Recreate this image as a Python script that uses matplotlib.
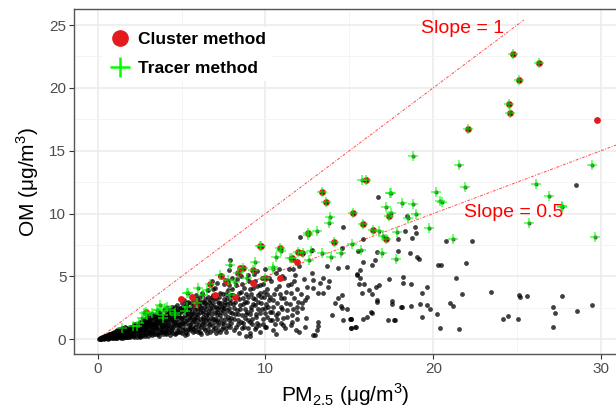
import numpy as np
import matplotlib
matplotlib.use('Agg')
import matplotlib.pyplot as plt
from matplotlib.lines import Line2D
from matplotlib.ticker import MultipleLocator

plt.rcParams['font.family'] = ['Liberation Sans', 'DejaVu Sans']

# all samples (PM2.5, OM), ug/m3
cloud_pts = [
    # dense part near the origin
    (0.1,0.03),(0.15,0.06),(0.2,0.05),(0.25,0.1),(0.3,0.08),(0.3,0.15),(0.35,0.12),(0.4,0.1),
    (0.4,0.2),(0.45,0.16),(0.5,0.08),(0.5,0.22),(0.55,0.18),(0.6,0.12),(0.6,0.28),(0.65,0.2),
    (0.7,0.1),(0.7,0.32),(0.75,0.24),(0.8,0.15),(0.8,0.36),(0.85,0.28),(0.9,0.12),(0.9,0.42),
    (0.95,0.3),(1.0,0.18),(1.0,0.46),(1.0,0.6),(1.05,0.35),(1.1,0.1),(1.1,0.52),(1.15,0.25),
    (1.2,0.4),(1.2,0.62),(1.25,0.15),(1.3,0.5),(1.3,0.3),(1.35,0.7),(1.4,0.2),(1.4,0.45),
    (1.45,0.6),(1.5,0.12),(1.5,0.35),(1.5,0.8),(1.55,0.52),(1.6,0.25),(1.6,0.7),(1.65,0.42),
    (1.7,0.15),(1.7,0.9),(1.75,0.58),(1.8,0.3),(1.8,0.75),(1.85,0.48),(1.9,0.2),(1.9,0.95),
    (1.95,0.65),(2.0,0.38),(2.0,0.82),(0.55,0.35),(0.75,0.45),(0.2,0.12),(0.45,0.28),(1.15,0.75),
    (1.6,0.95),(0.35,0.22),(0.85,0.5),(1.25,0.85),(0.65,0.4),(1.45,0.9),
    (0.12,0.08),(0.18,0.02),(0.28,0.18),(0.38,0.05),(0.42,0.25),(0.52,0.14),(0.58,0.3),
    (0.62,0.05),(0.68,0.26),(0.72,0.4),(0.78,0.08),(0.82,0.3),(0.88,0.2),(0.92,0.5),(0.98,0.08),
    (1.02,0.38),(1.08,0.22),(1.12,0.65),(1.18,0.12),(1.22,0.5),(1.28,0.35),(1.32,0.6),(1.38,0.1),
    (1.42,0.75),(1.48,0.25),(1.52,0.65),(1.58,0.4),(1.62,0.15),(1.68,0.6),(1.72,0.35),
    (1.78,0.85),(1.82,0.2),(1.88,0.65),(1.92,0.45),(1.98,1.0),
    (1.55,0.3),(1.65,0.55),(1.75,0.2),(1.85,0.8),(1.95,0.3),
    # 2 - 5
    (2.1,0.25),(2.1,0.55),(2.15,0.9),(2.2,1.1),(2.25,0.4),(2.3,0.7),(2.3,1.25),(2.35,0.2),
    (2.4,0.95),(2.45,0.55),(2.5,1.35),(2.5,0.35),(2.55,0.75),(2.6,1.1),(2.65,0.25),(2.7,1.5),
    (2.7,0.55),(2.75,0.9),(2.8,1.25),(2.85,0.4),(2.9,1.7),(2.9,0.7),(2.95,1.05),(3.0,0.3),
    (3.0,1.4),(3.05,0.85),(3.1,1.9),(3.1,0.55),(3.15,1.2),(3.2,1.6),(3.25,0.35),(3.3,1.0),
    (3.3,1.85),(3.35,0.7),(3.4,1.4),(3.45,0.45),(3.5,2.0),(3.5,1.15),(3.55,0.8),(3.6,1.65),
    (3.65,0.3),(3.7,1.3),(3.7,2.1),(3.75,0.6),(3.8,0.95),(3.85,1.8),(3.9,1.5),(3.9,0.45),
    (3.95,2.3),(4.0,1.15),(4.0,0.75),(4.05,1.95),(4.1,0.5),(4.15,1.45),(4.2,2.45),(4.2,0.9),
    (4.25,1.7),(4.3,0.35),(4.35,2.1),(4.4,1.2),(4.4,0.65),(4.45,2.6),(4.5,1.55),(4.5,0.95),
    (4.55,2.3),(4.6,0.45),(4.65,1.85),(4.7,1.1),(4.7,2.7),(4.75,0.75),(4.8,1.4),(4.85,2.15),
    (4.9,0.55),(4.9,2.5),(4.95,1.7),(5.0,1.0),(5.0,2.9),
    (2.4,0.8),(2.6,0.95),(2.8,1.05),(3.0,1.2),(3.2,1.3),(3.4,1.15),(3.6,1.45),(3.8,1.6),
    (4.0,1.7),(4.2,1.35),(4.4,1.9),(4.6,2.0),(4.8,1.9),(2.2,0.75),(3.15,0.95),(3.55,1.85),
    (4.15,2.15),(4.75,1.6),(2.95,1.5),(3.75,1.1),(4.55,1.3),
    (2.05,0.6),(2.12,0.35),(2.18,1.2),(2.28,0.9),(2.35,0.5),(2.42,1.1),(2.48,0.7),(2.55,0.2),
    (2.62,1.3),(2.68,0.8),(2.72,0.35),(2.78,1.45),(2.85,0.95),(2.92,0.5),(2.98,1.25),(3.05,1.6),
    (3.12,0.4),(3.18,1.05),(3.25,1.75),(3.32,0.55),(3.38,1.3),(3.45,0.9),(3.52,1.55),(3.58,0.4),
    (3.65,1.95),(3.72,0.85),(3.78,1.4),(3.85,0.6),(3.92,1.2),(3.98,1.85),(4.05,0.4),(4.12,1.05),
    (4.18,1.75),(4.25,0.6),(4.32,2.3),(4.38,1.5),(4.45,0.8),(4.52,2.1),(4.58,1.15),(4.65,0.5),
    (4.72,1.95),(4.78,2.4),(4.85,0.9),(4.92,1.25),(4.98,2.2),(3.35,1.6),(3.95,0.95),(4.62,2.6),
    (2.55,1.05),(4.28,1.95),
    (2.05,0.95),(2.15,0.15),(2.25,0.65),(2.38,1.0),(2.45,0.3),(2.52,0.9),(2.58,0.5),(2.68,1.2),
    (2.75,0.65),(2.82,0.25),(2.88,1.35),(2.96,0.8),(3.02,1.05),(3.08,0.6),(3.14,1.45),
    (3.22,0.75),(3.28,1.25),(3.36,0.4),(3.42,1.7),(3.48,1.0),(3.56,1.25),(3.62,0.55),(3.68,1.8),
    (3.76,1.55),(3.82,0.75),(3.88,1.05),(3.96,1.4),(4.02,0.55),(4.08,1.6),(4.16,0.75),
    (4.22,1.1),(4.28,2.1),(4.36,0.95),(4.42,1.65),(4.48,0.5),(4.56,1.8),(4.62,1.35),(4.68,2.25),
    (4.76,0.6),(4.82,1.15),(4.88,1.75),(4.96,2.45),
    # 5 - 8
    (5.05,0.5),(5.1,1.3),(5.1,2.3),(5.15,3.1),(5.2,0.85),(5.2,1.9),(5.25,2.7),(5.3,0.4),
    (5.35,1.55),(5.4,2.1),(5.4,3.0),(5.45,1.1),(5.5,2.5),(5.5,0.7),(5.55,1.8),(5.6,3.3),
    (5.6,1.35),(5.65,2.2),(5.7,0.55),(5.75,2.8),(5.8,1.0),(5.8,1.7),(5.85,3.5),(5.9,2.4),
    (5.95,0.8),(6.0,1.45),(6.0,2.0),(6.05,3.0),(6.1,0.6),(6.15,2.6),(6.2,1.2),(6.2,3.7),
    (6.25,1.8),(6.3,2.25),(6.35,0.9),(6.4,3.2),(6.45,1.5),(6.5,2.7),(6.5,0.5),(6.55,2.0),
    (6.6,3.9),(6.65,1.1),(6.7,2.45),(6.75,1.7),(6.8,3.4),(6.85,0.75),(6.9,2.9),(6.95,1.35),
    (7.0,2.2),(7.0,4.1),(7.05,0.5),(7.1,1.9),(7.15,3.0),(7.2,1.1),(7.25,2.6),(7.3,3.7),
    (7.35,1.6),(7.4,0.8),(7.45,2.3),(7.5,4.4),(7.5,3.2),(7.55,1.3),(7.6,2.0),(7.65,0.6),
    (7.7,2.8),(7.75,3.9),(7.8,1.5),(7.85,2.45),(7.9,1.0),(7.95,3.5),(8.0,4.9),(8.0,2.1),
    (5.3,2.0),(5.7,2.0),(6.1,2.4),(6.4,2.9),(6.6,2.2),(6.9,3.5),(7.2,2.4),(7.6,3.0),
    (5.9,3.2),(6.3,1.6),(7.1,1.5),(7.9,2.9),(5.5,1.6),(6.7,3.1),(7.4,2.6),(7.3,5.0),
    (6.8,4.6),(7.8,5.5),(7.88,6.3),
    (5.02,1.6),(5.08,0.7),(5.15,2.6),(5.22,1.2),(5.28,0.55),(5.35,2.4),(5.42,1.75),(5.48,0.9),
    (5.55,2.9),(5.62,1.0),(5.68,2.55),(5.75,1.45),(5.82,0.65),(5.88,2.05),(5.95,2.9),(6.02,1.15),
    (6.08,2.2),(6.15,0.45),(6.22,2.95),(6.28,1.35),(6.35,2.55),(6.42,0.7),(6.48,1.95),(6.55,3.4),
    (6.62,1.45),(6.68,0.6),(6.75,2.7),(6.82,2.0),(6.88,1.05),(6.95,3.2),(7.02,1.6),(7.08,2.6),
    (7.15,0.7),(7.22,3.4),(7.28,1.9),(7.35,2.9),(7.42,1.3),(7.48,3.6),(7.55,2.5),(7.62,0.9),
    (7.68,3.3),(7.75,1.8),(7.82,4.3),(7.88,2.2),(7.95,1.3),(6.1,3.4),(6.9,4.0),(7.6,4.7),
    (5.75,3.0),(7.1,4.5),
    (5.04,1.35),(5.12,1.8),(5.18,0.35),(5.26,1.45),(5.32,2.9),(5.38,0.85),(5.46,2.3),(5.52,1.25),
    (5.58,2.0),(5.66,0.85),(5.72,1.65),(5.78,2.35),(5.86,1.25),(5.92,1.8),(5.98,0.55),(6.06,2.75),
    (6.12,1.65),(6.18,1.0),(6.26,2.1),(6.32,3.0),(6.38,1.2),(6.46,2.4),(6.52,1.7),(6.58,0.8),
    (6.64,2.95),(6.72,1.25),(6.78,2.3),(6.86,1.6),(6.92,2.55),(6.98,0.9),(7.06,3.3),(7.12,2.15),
    (7.18,1.35),(7.26,2.85),(7.32,0.6),(7.38,2.15),(7.46,1.0),(7.52,2.75),(7.58,1.65),(7.66,3.6),
    (7.72,2.3),(7.78,1.1),(7.86,3.1),(7.92,1.7),(7.98,4.0),
    # 8 - 12.5
    (8.1,0.7),(8.15,1.6),(8.2,3.0),(8.25,4.3),(8.3,2.3),(8.35,1.2),(8.4,3.7),(8.45,0.5),
    (8.5,2.7),(8.55,5.0),(8.6,1.9),(8.65,3.3),(8.7,1.0),(8.75,4.1),(8.8,2.4),(8.85,0.3),
    (8.9,3.0),(8.95,1.5),(9.0,4.6),(9.05,0.26),(9.1,2.0),(9.15,3.6),(9.2,1.2),(9.25,2.8),
    (9.3,5.2),(9.35,0.8),(9.4,3.2),(9.45,1.8),(9.5,4.2),(9.55,2.4),(9.6,1.1),(9.65,3.7),
    (9.7,0.6),(9.75,2.9),(9.8,4.9),(9.85,1.6),(9.9,3.4),(9.95,2.1),(10.0,5.6),(10.05,1.0),
    (10.1,4.0),(10.15,2.6),(10.2,3.1),(10.3,1.5),(10.35,4.6),(10.4,2.2),(10.45,0.7),(10.5,3.6),
    (10.6,5.3),(10.65,1.9),(10.7,2.9),(10.8,4.2),(10.9,1.3),(10.95,3.3),(11.0,2.4),(11.1,4.9),
    (11.15,0.9),(11.2,3.8),(11.3,1.8),(11.4,5.6),(11.45,2.8),(11.5,4.4),(11.6,1.4),(11.7,3.3),
    (11.75,5.1),(11.85,2.2),(11.9,4.0),(12.0,0.6),(12.0,5.8),(12.1,3.6),(12.2,2.5),(12.3,4.8),
    (12.4,1.7),(9.97,1.0),(10.37,1.54),(11.06,1.14),(11.56,1.93),(11.86,2.59),(12.16,2.86),
    (8.05,3.5),(8.12,2.5),(8.22,1.0),(8.28,4.8),(8.38,2.0),(8.42,3.2),(8.52,1.4),(8.58,4.4),
    (8.68,2.8),(8.78,1.7),(8.82,3.6),(8.92,2.2),(8.98,0.9),(9.08,4.0),(9.12,2.6),(9.22,1.6),
    (9.28,3.3),(9.38,4.6),(9.42,2.0),(9.52,1.3),(9.58,3.0),(9.68,4.3),(9.78,2.4),(9.88,1.2),
    (9.92,3.8),(10.02,2.8),(10.12,1.8),(10.22,4.9),(10.28,3.4),(10.42,2.6),(10.55,1.2),
    (10.62,4.0),(10.75,2.1),(10.85,3.6),(10.98,5.0),(11.05,1.7),(11.25,2.9),(11.35,4.3),
    (11.55,3.7),(11.65,2.4),(11.8,0.7),(11.95,3.0),(8.6,0.9),(9.1,0.5),(10.6,0.4),(9.5,5.4),
    (10.8,5.6),(8.95,5.1),
    (8.08,2.8),(8.18,2.0),(8.28,3.4),(8.36,1.5),(8.46,2.4),(8.56,3.8),(8.66,1.3),(8.76,3.0),
    (8.86,2.0),(8.96,3.4),(9.06,1.4),(9.16,2.3),(9.26,4.1),(9.36,2.7),(9.46,1.0),(9.56,3.5),
    (9.66,2.1),(9.76,3.4),(9.86,4.4),(9.96,2.5),(10.1,3.6),(10.25,2.2),(10.45,3.1),(10.7,1.6),
    (10.9,2.6),(11.1,3.3),(11.3,2.3),(11.5,1.1),(11.7,4.6),(11.9,1.6),
    # 12 - 16
    (12.06,8.16),(14.6,8.96),(12.75,7.1),(14.54,7.24),(15.5,7.05),(11.66,5.57),(13.65,5.83),
    (14.34,5.65),(14.88,5.73),(15.43,5.17),(12.75,5.25),(12.85,4.72),(13.44,4.9),(13.25,4.45),
    (13.8,4.64),(13.74,4.18),(13.11,3.66),(13.44,3.66),(14.34,3.26),(14.54,3.52),(14.5,2.65),
    (14.56,2.47),(14.84,2.39),(13.94,1.93),(15.1,1.59),(15.33,1.0),(12.35,1.0),(13.15,1.4),
    (13.05,0.74),(12.85,0.34),(12.81,4.06),(12.46,4.18),(12.46,3.39),(12.35,3.13),(12.95,0.34),
    (13.11,1.06),(14.14,2.86),(14.64,1.54),(15.03,1.64),(15.08,0.87),(15.63,5.51),
    # sparse right part
    (16.69,11.32),(18.42,9.81),(18.33,8.64),(18.91,8.91),(18.75,8.03),(18.97,8.43),(17.92,7.98),
    (15.83,7.96),(20.74,7.82),(22.29,7.85),(16.66,6.97),(17.92,7.05),(18.61,6.84),(19.01,6.57),
    (19.17,6.36),(15.83,6.13),(16.51,6.28),(16.33,5.94),(20.26,5.89),(20.46,5.89),(21.93,6.07),
    (15.43,5.12),(15.63,4.85),(15.59,4.4),(15.89,4.4),(17.34,4.8),(18.21,4.96),(18.18,4.5),
    (18.69,4.42),(19.62,4.16),(21.37,4.9),(21.69,3.6),(15.73,3.66),(16.19,3.92),(16.35,3.58),
    (16.57,4.18),(16.78,4.34),(16.62,3.13),(16.66,2.99),(17.56,3.07),(17.52,2.81),(18.06,2.55),
    (18.16,2.55),(18.69,2.65),(19.23,2.78),(19.35,3.71),(19.64,2.73),(19.82,2.43),(20.2,2.04),
    (21.01,2.86),(21.15,2.67),(16.27,2.17),(16.37,2.07),(16.07,1.75),(15.79,1.59),(17.28,1.56),
    (17.66,1.56),(17.72,1.51),(19.31,1.75),(20.4,0.87),(21.53,0.82),(15.1,1.61),(15.38,0.95),
    (15.08,0.87),(28.5,12.25),(23.42,3.79),(25.13,3.52),(25.17,3.34),(25.6,3.42),(27.67,3.47),
    (27.12,2.59),(27.24,2.07),(28.55,2.28),(29.44,2.73),(24.14,1.59),(24.47,1.85),(25.07,1.59),
    (27.13,0.98),
]

# tracer method points
tracer_pts = [
    (1.43,0.92),(2.12,1.06),(2.32,1.06),(2.46,1.27),(2.62,1.67),(2.78,2.12),(2.86,2.2),
    (2.92,1.93),(3.22,2.07),(3.52,2.33),(3.61,2.33),(3.71,2.73),(3.91,1.93),(3.91,1.67),
    (4.01,2.47),(4.11,2.6),(4.31,2.33),(4.61,2.07),(4.61,1.93),(5.2,2.28),(5.3,3.66),(5.3,2.6),
    (5.4,3.66),(5.9,2.86),(6.0,4.06),(6.29,3.52),(6.5,3.92),(6.69,4.4),(7.29,5.12),(7.78,4.72),
    (7.88,5.91),(8.18,4.58),(8.38,5.25),(8.68,5.65),(7.88,3.52),(8.88,4.85),(9.27,5.51),
    (9.37,6.18),(9.67,7.4),(9.75,7.45),(9.97,4.85),(10.47,5.78),(10.86,7.24),(10.9,7.0),
    (10.63,6.52),(10.43,5.57),(11.56,6.44),(11.46,6.49),(11.92,6.97),(12.22,6.84),(12.55,8.3),
    (12.55,8.43),(12.71,7.02),(12.61,6.31),(13.05,8.62),(13.35,6.89),(13.89,6.52),(14.5,6.89),
    (14.08,7.76),(15.14,7.58),(13.35,11.74),(13.63,10.92),(13.84,9.75),(13.78,9.23),
    (15.23,10.07),(15.83,9.17),(16.39,8.67),(16.78,8.64),(17.16,8.0),(17.02,8.22),(17.85,8.54),
    (19.73,8.83),(21.19,7.96),(15.67,7.1),(16.96,6.89),(17.8,6.39),(15.97,12.65),(15.75,12.67),
    (17.44,11.61),(17.46,11.66),(18.12,10.87),(18.81,10.74),(20.14,11.69),(20.42,11.03),
    (21.89,12.14),(17.16,10.55),(17.38,9.81),(17.46,10.02),(18.97,9.97),(18.51,9.68),
    (18.77,14.61),(21.51,13.87),(29.46,13.87),(26.12,12.36),(26.88,11.4),(27.69,10.5),
    (25.7,9.28),(29.64,8.11),(20.5,10.95),(27.65,10.63),(24.75,22.67),(26.28,22.0),
    (25.11,20.63),(24.49,18.74),(24.55,17.98),(22.05,16.76),
]

# cluster method points
cluster_pts = [
    (2.86,2.2),(4.95,3.2),(5.6,3.34),(5.86,2.86),(6.69,4.4),(6.99,3.52),(7.35,5.06),(7.69,4.58),
    (8.18,3.39),(8.38,5.25),(8.48,5.65),(8.68,5.65),(9.27,5.51),(9.27,4.45),(9.67,7.4),
    (9.75,7.45),(9.97,4.85),(10.86,4.85),(10.86,7.24),(11.56,6.44),(11.86,6.18),(11.58,6.36),
    (11.92,6.97),(12.16,6.89),(12.55,8.43),(14.08,7.76),(13.35,11.74),(13.63,10.92),
    (15.23,10.07),(15.83,9.17),(16.39,8.67),(17.16,8.0),(17.38,9.81),(15.97,12.65),
    (22.05,16.76),(24.49,18.74),(24.55,17.98),(25.11,20.63),(24.75,22.67),(26.28,22.0),
    (29.74,17.45),
]

slopes = [1, 0.5]
slope_ends = [25.4, 31]

cloud = np.array(cloud_pts)
tracer = np.array(tracer_pts)
cluster = np.array(cluster_pts)

fig = plt.figure(figsize=(6.16, 4.09), dpi=100)
ax = fig.add_axes([74/616, 55/409, 542/616, 344.7/409])

ax.scatter(cloud[:, 0], cloud[:, 1], s=12, color='black', alpha=0.75, linewidths=0, zorder=2)
ax.scatter(cluster[:, 0], cluster[:, 1], s=24, color='#E41A1C', linewidths=0, zorder=3)
ax.scatter(tracer[:, 0], tracer[:, 1], s=9, color='black', alpha=0.7, linewidths=0, zorder=4)
ax.scatter(tracer[:, 0], tracer[:, 1], s=60, marker='+', color='#00FF00', alpha=0.6,
           linewidths=1.3, zorder=5)

for k, xe in zip(slopes, slope_ends):
    xx = np.array([0, xe])
    ax.plot(xx, k*xx, color='#FF0000', alpha=0.7, lw=0.7, ls=(0, (3, 1.5, 1, 1.5)), zorder=1.5)

ax.text(21.77, 24.75, 'Slope = 1', color='#FF0000', fontsize=14, ha='center', va='center')
ax.text(24.79, 10.1, 'Slope = 0.5', color='#FF0000', fontsize=14, ha='center', va='center')

ax.set_xlim(-1.41, 30.89)
ax.set_ylim(-1.17, 26.25)
ax.xaxis.set_major_locator(MultipleLocator(10))
ax.xaxis.set_minor_locator(MultipleLocator(5))
ax.yaxis.set_major_locator(MultipleLocator(5))
ax.yaxis.set_minor_locator(MultipleLocator(2.5))
ax.grid(which='major', color='#EBEBEB', lw=1.1)
ax.grid(which='minor', color='#F2F2F2', lw=0.6)
ax.set_axisbelow(True)
ax.tick_params(which='major', direction='out', length=3.5, width=0.8, color='#333333',
               labelcolor='#4D4D4D', labelsize=11, pad=2)
ax.tick_params(which='minor', length=0)
for side in ['left', 'bottom', 'top']:
    ax.spines[side].set_color('#555555')
    ax.spines[side].set_linewidth(1)
ax.spines['right'].set_visible(False)

ax.set_xlabel(r'PM$_{\mathregular{2.5}}$ (μg/m$^{\mathregular{3}}$)', fontsize=15, labelpad=4)
ax.set_ylabel(r'OM (μg/m$^{\mathregular{3}}$)', fontsize=15, labelpad=6)

handles = [Line2D([], [], marker='o', color='#E41A1C', ls='none', markersize=11),
           Line2D([], [], marker='+', color='#00FF00', ls='none', markersize=14, mew=1.8)]
leg = ax.legend(handles, ['Cluster method', 'Tracer method'], loc='upper left',
                bbox_to_anchor=(0.035, 0.975), frameon=True, facecolor='white', edgecolor='none',
                framealpha=1, prop={'weight': 'bold', 'size': 12.5}, handletextpad=0.3,
                labelspacing=0.8, borderpad=0.3, handlelength=1.5)
leg.get_frame().set_boxstyle('square', pad=0)

fig.savefig('out.png', dpi=100)
